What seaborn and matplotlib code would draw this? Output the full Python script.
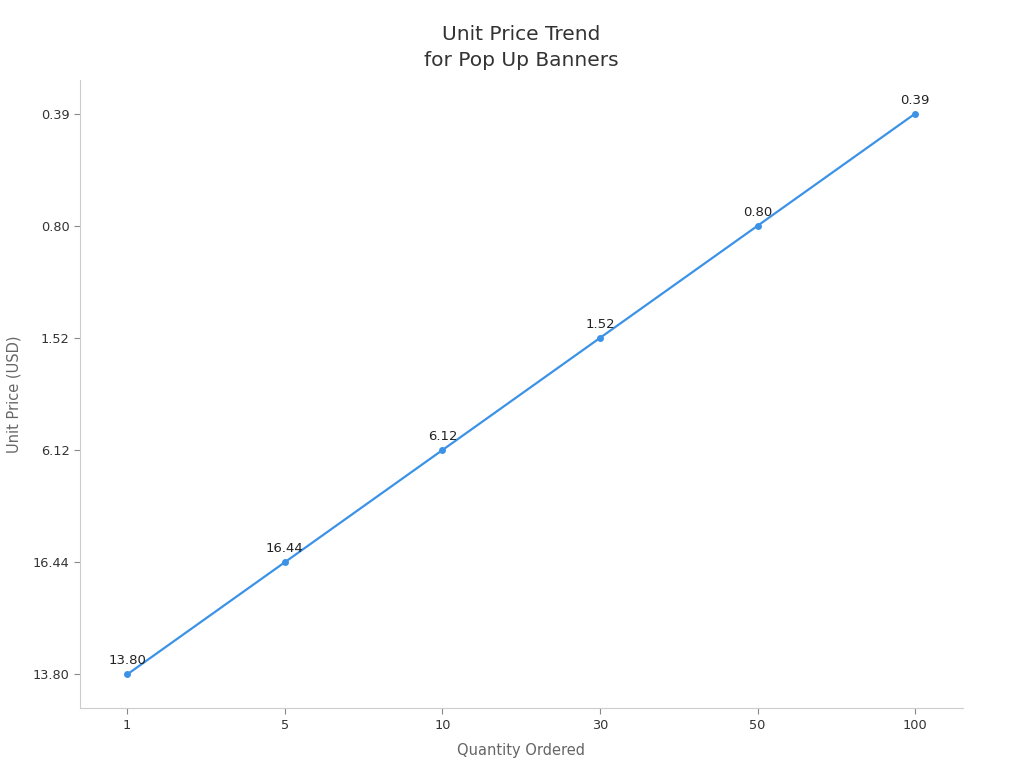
import matplotlib
matplotlib.use("Agg")
import matplotlib.pyplot as plt
import seaborn as sns

quantities = ["1", "5", "10", "30", "50", "100"]
prices = ["13.80", "16.44", "6.12", "1.52", "0.80", "0.39"]

sns.set_theme(style="white")
plt.rcParams["font.family"] = ["DejaVu Sans"]

fig, ax = plt.subplots(figsize=(10.24, 7.68), dpi=100)
sns.lineplot(x=quantities, y=prices, sort=False, marker="o", markersize=5,
             markeredgewidth=0, color="#3b92e6", linewidth=1.6, ax=ax)

for q, p in zip(quantities, prices):
    ax.annotate(p, (q, p), xytext=(0, 5), textcoords="offset points",
                ha="center", va="bottom", fontsize=9.5, color="#222222")

ax.set_xlim(-0.3, 5.3)
ax.set_ylim(-0.3, 5.3)
ax.set_title("Unit Price Trend\nfor Pop Up Banners", fontsize=14.5, color="#333333",
             pad=10, linespacing=1.45)
ax.set_xlabel("Quantity Ordered", fontsize=10.5, color="#666666", labelpad=8)
ax.set_ylabel("Unit Price (USD)", fontsize=10.5, color="#666666", labelpad=8)
ax.tick_params(axis="both", labelsize=9.3, colors="#333333", length=4,
               width=0.8, color="#888888", left=True, bottom=True)
sns.despine(ax=ax)
for s in ["left", "bottom"]:
    ax.spines[s].set_color("#cccccc")
    ax.spines[s].set_linewidth(0.8)

plt.subplots_adjust(left=0.078, right=0.94, top=0.896, bottom=0.078)
fig.savefig("out.png", dpi=100)
